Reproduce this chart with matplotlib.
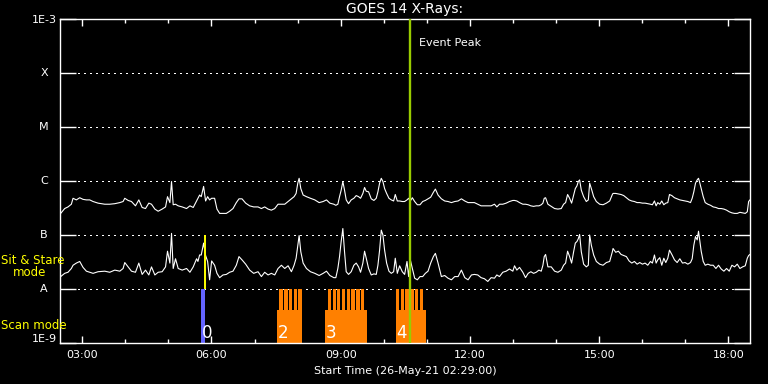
import numpy as np
import matplotlib
matplotlib.use('Agg')
import matplotlib.pyplot as plt
from matplotlib import transforms
from matplotlib.ticker import NullLocator, FixedLocator

# time axis in decimal hours (UT, 26-May-21), start 02:29
start_hour = 2 + 29 / 60
end_hour = 18.5

hours = [
    2.499, 2.592, 2.669, 2.747, 2.786, 2.863, 2.941, 3.018, 3.096, 3.173,
    3.251, 3.367, 3.522, 3.638, 3.755, 3.871, 3.948, 3.987, 4.065, 4.142,
    4.235, 4.313, 4.390, 4.468, 4.545, 4.607, 4.685, 4.762, 4.855, 4.933,
    4.979, 5.034, 5.072, 5.111, 5.165, 5.227, 5.320, 5.421, 5.499, 5.576,
    5.654,
    5.685, 5.724, 5.762, 5.817, 5.863, 5.910, 5.956, 6.003, 6.072, 6.127,
    6.189, 6.266, 6.344, 6.421, 6.499, 6.576, 6.638, 6.708, 6.793, 6.886,
    6.979, 7.080, 7.158, 7.235, 7.313, 7.390, 7.468, 7.545, 7.623, 7.700,
    7.778, 7.855, 7.917, 7.964, 8.003, 8.034, 8.073, 8.127, 8.204, 8.297,
    8.398, 8.499, 8.592, 8.669, 8.747, 8.840,
    8.886, 8.933, 8.972, 9.010, 9.049, 9.088, 9.127, 9.181, 9.243, 9.305,
    9.359, 9.414, 9.460, 9.514, 9.553, 9.592, 9.646, 9.708, 9.770, 9.824,
    9.863, 9.902, 9.941, 9.979, 10.018, 10.065, 10.119, 10.173, 10.228, 10.266,
    10.313, 10.367, 10.429, 10.483, 10.538, 10.576, 10.615, 10.662, 10.716, 10.778,
    10.840, 10.902, 10.964, 11.026, 11.088, 11.150, 11.197, 11.259, 11.336, 11.413,
    11.491, 11.569, 11.646, 11.724, 11.801, 11.879, 11.956, 12.034,
    12.103, 12.181, 12.258, 12.336, 12.414, 12.491, 12.569, 12.623, 12.685, 12.762,
    12.840, 12.917, 12.995, 13.034, 13.088, 13.150, 13.227, 13.289, 13.351, 13.413,
    13.476, 13.538, 13.600, 13.654, 13.693, 13.724, 13.755, 13.809, 13.886, 13.964,
    14.041, 14.119, 14.173, 14.220, 14.266, 14.313, 14.359, 14.406, 14.445, 14.483,
    14.514, 14.545, 14.584, 14.638, 14.700, 14.747, 14.778, 14.817, 14.871, 14.933,
    15.011, 15.088, 15.166, 15.243, 15.305,
    15.321, 15.383, 15.445, 15.507, 15.569, 15.631, 15.693, 15.755, 15.817, 15.879,
    15.941, 16.003, 16.065, 16.127, 16.189, 16.235, 16.282, 16.321, 16.359, 16.406,
    16.452, 16.499, 16.545, 16.592, 16.631, 16.685, 16.747, 16.809, 16.871, 16.933,
    16.995, 17.057, 17.119, 17.158, 17.196, 17.235, 17.274, 17.305, 17.336, 17.367,
    17.414, 17.460, 17.522, 17.584, 17.646, 17.708, 17.770, 17.832, 17.894, 17.956,
    18.018, 18.080, 18.142, 18.204, 18.266, 18.328, 18.390, 18.437, 18.468, 18.499,
]

# log10 flux (W/m^2), 1-8 A channel
long_log10 = [
    -6.60, -6.51, -6.48, -6.43, -6.32, -6.35, -6.31, -6.34, -6.35, -6.35,
    -6.38, -6.41, -6.43, -6.43, -6.42, -6.40, -6.38, -6.32, -6.36, -6.38,
    -6.46, -6.35, -6.49, -6.51, -6.41, -6.43, -6.52, -6.56, -6.52, -6.48,
    -6.29, -6.40, -6.01, -6.44, -6.43, -6.46, -6.48, -6.51, -6.46, -6.49,
    -6.37,
    -6.32, -6.26, -6.29, -6.10, -6.37, -6.29, -6.35, -6.32, -6.32, -6.52,
    -6.60, -6.60, -6.60, -6.56, -6.51, -6.40, -6.33, -6.33, -6.41, -6.46,
    -6.48, -6.48, -6.51, -6.48, -6.52, -6.54, -6.51, -6.43, -6.43, -6.43,
    -6.38, -6.33, -6.29, -6.23, -6.04, -5.95, -6.14, -6.26, -6.29, -6.32,
    -6.35, -6.40, -6.38, -6.35, -6.41, -6.43,
    -6.45, -6.43, -6.29, -6.17, -6.01, -6.17, -6.35, -6.42, -6.35, -6.32,
    -6.27, -6.29, -6.32, -6.23, -6.12, -6.19, -6.20, -6.33, -6.36, -6.32,
    -6.20, -6.04, -5.95, -6.01, -6.14, -6.23, -6.32, -6.35, -6.37, -6.25,
    -6.37, -6.37, -6.38, -6.38, -6.35, -6.32, -6.37, -6.31, -6.38, -6.44,
    -6.44, -6.38, -6.36, -6.33, -6.30, -6.21, -6.15, -6.26, -6.33, -6.37,
    -6.38, -6.40, -6.38, -6.37, -6.33, -6.37, -6.40, -6.40,
    -6.40, -6.43, -6.46, -6.46, -6.46, -6.46, -6.43, -6.48, -6.43, -6.43,
    -6.41, -6.38, -6.36, -6.36, -6.37, -6.40, -6.43, -6.43, -6.44, -6.46,
    -6.47, -6.46, -6.46, -6.44, -6.41, -6.32, -6.31, -6.43, -6.47, -6.51,
    -6.52, -6.51, -6.43, -6.40, -6.25, -6.32, -6.41, -6.26, -6.14, -6.09,
    -6.01, -5.98, -6.17, -6.29, -6.38, -6.35, -6.04, -6.14, -6.29, -6.38,
    -6.43, -6.44, -6.41, -6.37, -6.25,
    -6.23, -6.23, -6.24, -6.25, -6.27, -6.31, -6.35, -6.37, -6.38, -6.40,
    -6.40, -6.41, -6.41, -6.42, -6.43, -6.44, -6.37, -6.46, -6.40, -6.43,
    -6.37, -6.44, -6.41, -6.40, -6.25, -6.27, -6.31, -6.33, -6.35, -6.36,
    -6.37, -6.38, -6.40, -6.32, -6.20, -6.04, -5.98, -5.95, -6.04, -6.14,
    -6.29, -6.40, -6.43, -6.45, -6.48, -6.49, -6.51, -6.51, -6.52, -6.54,
    -6.57, -6.59, -6.60, -6.60, -6.58, -6.59, -6.60, -6.57, -6.38, -6.35,
]

# log10 flux (W/m^2), 0.5-4 A channel
short_log10 = [
    -7.77, -7.71, -7.69, -7.62, -7.56, -7.52, -7.49, -7.60, -7.67, -7.69,
    -7.71, -7.68, -7.67, -7.69, -7.65, -7.67, -7.62, -7.51, -7.59, -7.67,
    -7.69, -7.52, -7.73, -7.65, -7.74, -7.59, -7.74, -7.69, -7.68, -7.59,
    -7.30, -7.52, -6.97, -7.62, -7.44, -7.62, -7.65, -7.62, -7.69, -7.59,
    -7.44,
    -7.49, -7.37, -7.37, -7.15, -7.38, -7.49, -7.83, -7.48, -7.56, -7.71,
    -7.79, -7.74, -7.73, -7.69, -7.67, -7.56, -7.40, -7.46, -7.54, -7.65,
    -7.71, -7.68, -7.77, -7.69, -7.74, -7.71, -7.74, -7.62, -7.56, -7.62,
    -7.57, -7.68, -7.56, -7.43, -7.19, -7.01, -7.31, -7.52, -7.62, -7.68,
    -7.71, -7.75, -7.71, -7.67, -7.75, -7.79,
    -7.79, -7.62, -7.40, -7.12, -6.88, -7.31, -7.68, -7.73, -7.68, -7.56,
    -7.52, -7.59, -7.69, -7.52, -7.30, -7.43, -7.62, -7.74, -7.72, -7.73,
    -7.56, -7.28, -6.91, -7.00, -7.28, -7.52, -7.67, -7.71, -7.68, -7.43,
    -7.71, -7.57, -7.68, -7.73, -7.49, -7.77, -7.46, -7.62, -7.80, -7.83,
    -7.77, -7.77, -7.71, -7.67, -7.52, -7.40, -7.34, -7.52, -7.77, -7.75,
    -7.80, -7.83, -7.77, -7.77, -7.65, -7.79, -7.83, -7.74,
    -7.73, -7.74, -7.79, -7.81, -7.86, -7.79, -7.80, -7.74, -7.77, -7.69,
    -7.67, -7.63, -7.67, -7.57, -7.65, -7.60, -7.69, -7.79, -7.71, -7.68,
    -7.71, -7.69, -7.65, -7.67, -7.56, -7.40, -7.36, -7.59, -7.59, -7.67,
    -7.69, -7.65, -7.56, -7.52, -7.30, -7.40, -7.52, -7.31, -7.15, -7.12,
    -7.07, -6.99, -7.31, -7.54, -7.59, -7.56, -7.00, -7.19, -7.37, -7.49,
    -7.54, -7.56, -7.51, -7.49, -7.31,
    -7.25, -7.32, -7.30, -7.36, -7.38, -7.40, -7.48, -7.52, -7.49, -7.54,
    -7.51, -7.54, -7.52, -7.56, -7.49, -7.52, -7.37, -7.52, -7.46, -7.42,
    -7.56, -7.43, -7.51, -7.43, -7.28, -7.36, -7.46, -7.51, -7.44, -7.52,
    -7.51, -7.54, -7.51, -7.44, -7.19, -7.03, -7.09, -6.93, -7.12, -7.30,
    -7.49, -7.56, -7.54, -7.56, -7.56, -7.62, -7.56, -7.63, -7.67, -7.62,
    -7.67, -7.56, -7.59, -7.54, -7.62, -7.59, -7.57, -7.43, -7.38, -7.36,
]

event_peak = 10.60

# sit & stare observation
sit_stare_time = 5.839
sit_stare_span = (5.763, 5.856)

# scan rasters: label, block start/end, start of each scan
raster_labels = ['2', '3', '4']
raster_spans = [(7.523, 8.081), (8.646, 9.616), (10.274, 10.972)]
raster_scans = [
    [7.576, 7.693, 7.801, 7.909, 8.018],
    [8.693, 8.809, 8.918, 9.025, 9.135, 9.244, 9.360, 9.467],
    [10.274, 10.390, 10.499, 10.615, 10.722, 10.832],
]
scan_width = 0.076

class_levels = [1e-8, 1e-7, 1e-6, 1e-5, 1e-4]
class_names = ['A', 'B', 'C', 'M', 'X']

# ---- figure ----
plt.rcParams['font.family'] = ['DejaVu Sans']
fig = plt.figure(figsize=(7.68, 3.84), dpi=100, facecolor='black')
ax = fig.add_axes([60 / 768, 41 / 384, 690 / 768, 324 / 384])
ax.set_facecolor('black')
ax.set_yscale('log')
ax.set_ylim(1e-9, 1e-3)
ax.set_xlim(start_hour, end_hour)

for s in ax.spines.values():
    s.set_color('white')
    s.set_linewidth(1)

# dotted class lines
for lv in class_levels:
    ax.axhline(lv, color='white', lw=0.75, ls=(0, (1, 4.8)), antialiased=False, zorder=1)

# y ticks (inside, both sides), labels drawn by hand
ax.yaxis.set_major_locator(FixedLocator([1e-9, 1e-8, 1e-7, 1e-6, 1e-5, 1e-4, 1e-3]))
ax.yaxis.set_minor_locator(NullLocator())
ax.tick_params(axis='y', which='major', direction='in', length=11.5, width=1,
               color='white', left=True, right=True, labelleft=False)

ylab = transforms.blended_transform_factory(ax.transAxes, ax.transData)
ax.text(-0.004, 10 ** -3.02, '1E-3', transform=ylab, color='white', fontsize=8,
        ha='right', va='center')
ax.text(-0.004, 10 ** -8.92, '1E-9', transform=ylab, color='white', fontsize=8,
        ha='right', va='center')
for lv, name in zip(class_levels, class_names):
    ax.text(-0.023, lv, name, transform=ylab, color='white', fontsize=8,
            ha='center', va='center')

ax.text(-0.085, 10 ** -7.47, 'Sit & Stare', transform=ylab, color='yellow',
        fontsize=8.5, ha='left', va='center')
ax.text(-0.069, 10 ** -7.70, 'mode', transform=ylab, color='yellow',
        fontsize=8.5, ha='left', va='center')
ax.text(-0.085, 10 ** -8.67, 'Scan mode', transform=ylab, color='yellow',
        fontsize=8.5, ha='left', va='center')

# x ticks
ax.set_xticks([3, 6, 9, 12, 15, 18])
ax.set_xticklabels(['%02d:00' % h for h in [3, 6, 9, 12, 15, 18]])
ax.set_xticks(range(4, 19), minor=True)
ax.tick_params(axis='x', which='major', direction='in', length=5, width=1,
               color='white', labelcolor='white', labelsize=8, top=True, pad=5)
ax.tick_params(axis='x', which='minor', direction='in', length=3, width=1,
               color='white', top=True)
ax.set_xlabel('Start Time (26-May-21 02:29:00)', color='white', fontsize=8, labelpad=4)
ax.set_title('GOES 14 X-Rays:', color='white', fontsize=10, pad=4)

# light curves
t = np.array(hours)
ax.plot(t, 10 ** np.array(long_log10), color='white', lw=0.8, zorder=3)
ax.plot(t, 10 ** np.array(short_log10), color='white', lw=0.8, zorder=3)

# sit & stare marker
ax.bar(sit_stare_span[0], 1e-8 - 1e-9, bottom=1e-9,
       width=sit_stare_span[1] - sit_stare_span[0], align='edge',
       color='#6464ff', lw=0, zorder=2)
ax.vlines(sit_stare_time, 1e-8, 1e-7, color='yellow', lw=1.4, zorder=4)
ax.text(sit_stare_span[0] + 0.02, 10 ** -8.91, '0', color='white', fontsize=12,
        ha='left', va='baseline', zorder=5)

# scan rasters
block_top = 10 ** -8.39
for lab, (a, b), scans in zip(raster_labels, raster_spans, raster_scans):
    ax.bar(a, block_top - 1e-9, bottom=1e-9, width=b - a, align='edge',
           color='#ff8000', lw=0, zorder=2)
    ax.bar(scans, 1e-8 - 1e-9, bottom=1e-9, width=scan_width, align='edge',
           color='#ff8000', lw=0, zorder=2)
    ax.text(a + 0.01, 10 ** -8.91, lab, color='white', fontsize=12,
            ha='left', va='baseline', zorder=5)

# event peak
ax.axvline(event_peak, color='#99cc00', lw=1.7, zorder=4)
ax.annotate('Event Peak', xy=(event_peak, 10 ** -3.45), xytext=(7, 0),
            textcoords='offset points', color='white', fontsize=8, va='center')

fig.savefig('out.png', dpi=100, facecolor='black')
